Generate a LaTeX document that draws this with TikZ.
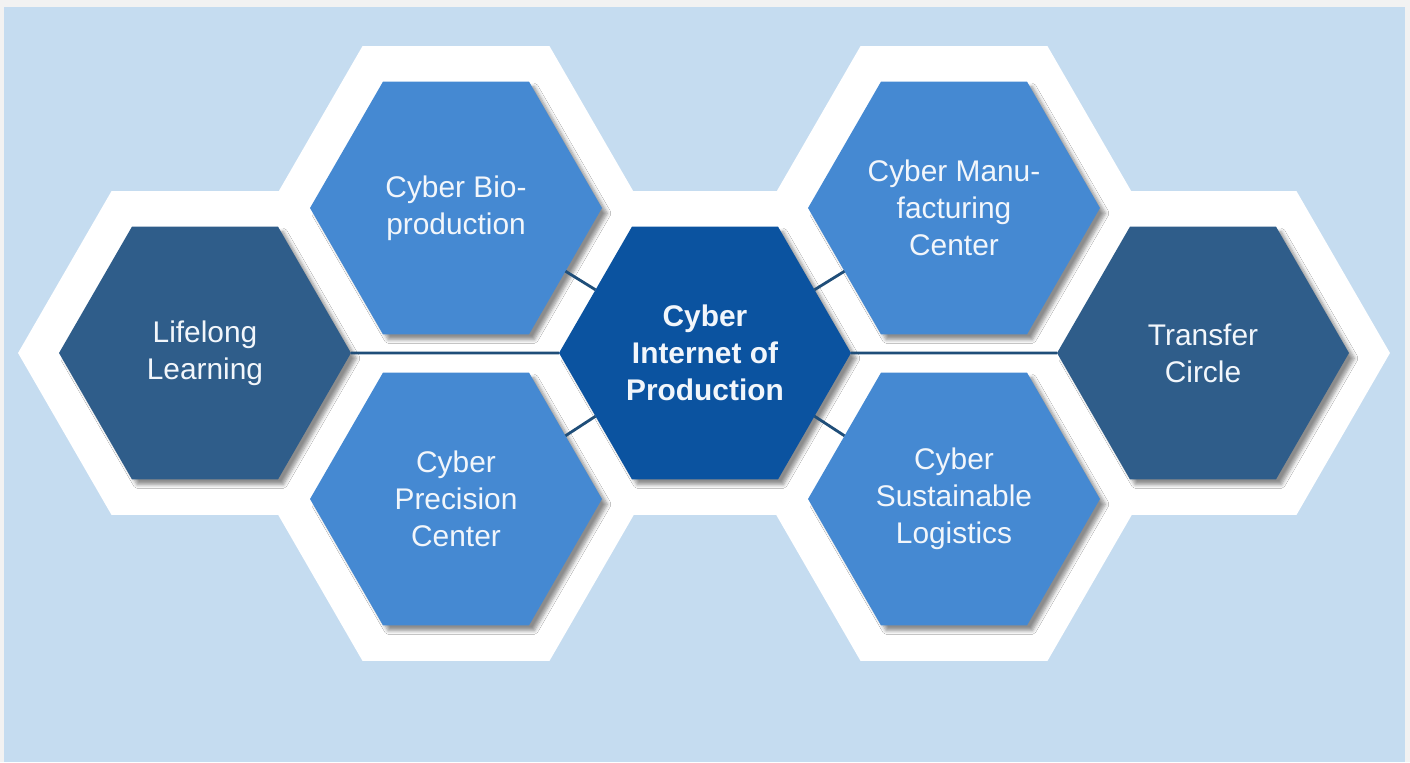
\documentclass[tikz,border=0pt]{standalone}
\usepackage{fontspec}
\setmainfont{Liberation Sans}
\usetikzlibrary{shapes.geometric,shadows.blur}
\definecolor{framegray}{HTML}{F2F2F2}
\definecolor{bgblue}{HTML}{C5DCF0}
\definecolor{hexlight}{HTML}{4589D2}
\definecolor{hexslate}{HTML}{2F5D8A}
\definecolor{hexcore}{HTML}{0B53A0}
\definecolor{linkblue}{HTML}{1F4E79}
\definecolor{hextext}{HTML}{F2F6FB}
\tikzset{
  hexbase/.style={regular polygon, regular polygon sides=6, minimum size=5.84cm,
    inner sep=0pt, outer sep=0pt, align=center, text=hextext,
    font=\fontsize{17}{21}\selectfont,
    blur shadow={shadow xshift=3pt, shadow yshift=-3pt, shadow blur steps=6, shadow opacity=45}},
  hexrim/.style={regular polygon, regular polygon sides=6, minimum size=7.48cm,
    inner sep=0pt, fill=white},
  link/.style={draw=linkblue, line width=1.6pt}
}
\begin{document}
\begin{tikzpicture}[x=0.02cm,y=-0.02cm]
 		\useasboundingbox (0,0) rectangle (1410,762);
 		\fill[framegray] (0,0) rectangle (1410,762);
 		\fill[bgblue] (4,7) rectangle (1405,762);
 		% white rims behind the cells
 		\foreach \cx/\cy in {205/353, 456/208, 456/499, 705/353, 954/208, 954/499, 1203/353}
 				{\node[hexrim] at (\cx,\cy) {};}
 		% cells
 		\node[hexbase, fill=hexslate] (ll) at (205,353) {Lifelong\\Learning};
 		\node[hexbase, fill=hexlight] (bio) at (456,208) {Cyber Bio-\\production};
 		\node[hexbase, fill=hexlight] (prec) at (456,499) {Cyber\\Precision\\Center};
 		\node[hexbase, fill=hexcore, font=\fontsize{17}{21}\selectfont\bfseries] (cip) at (705,353) {Cyber\\Internet of\\Production};
 		\node[hexbase, fill=hexlight] (manu) at (954,208) {Cyber Manu-\\facturing\\Center};
 		\node[hexbase, fill=hexlight] (logi) at (954,499) {Cyber\\Sustainable\\Logistics};
 		\node[hexbase, fill=hexslate] (tc) at (1203,353) {Transfer\\Circle};
 		% links
 		\draw[link] (ll.0) -- (cip.180);
 		\draw[link] (cip.0) -- (tc.180);
 		\draw[link] (bio.-30) -- (cip.150);
 		\draw[link] (prec.30) -- (cip.-150);
 		\draw[link] (manu.-150) -- (cip.30);
 		\draw[link] (logi.150) -- (cip.-30);
\end{tikzpicture}
\end{document}
